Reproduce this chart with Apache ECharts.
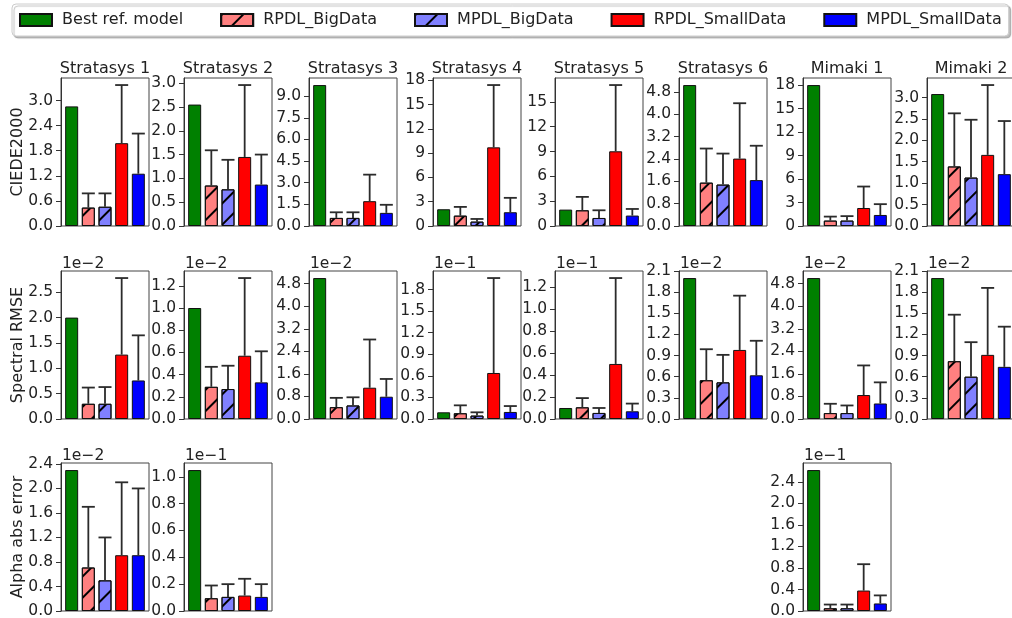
<!DOCTYPE html>
<html>
<head>
<meta charset="utf-8">
<script src="https://cdn.jsdelivr.net/npm/echarts@6/dist/echarts.min.js"></script>
<style>
  html, body { margin: 0; padding: 0; background: #fff; }
  #chart { width: 1012px; height: 618px; }
</style>
</head>
<body>
<div id="chart"></div>
<script>
var models = ['Best ref. model', 'RPDL_BigData', 'MPDL_BigData', 'RPDL_SmallData', 'MPDL_SmallData'];
var printers = ['Stratasys 1', 'Stratasys 2', 'Stratasys 3', 'Stratasys 4', 'Stratasys 5', 'Stratasys 6', 'Mimaki 1', 'Mimaki 2'];
var rowNames = ['CIEDE2000', 'Spectral RMSE', 'Alpha abs error'];

// CIEDE2000, one row per printer (model order as in models), std only shown upward
var ciedeMean = [
    [2.86, 0.44, 0.46, 1.98, 1.25],
    [2.55, 0.85, 0.77, 1.45, 0.87],
    [9.77, 0.56, 0.56, 1.72, 0.91],
    [2.07, 1.28, 0.54, 9.72, 1.70],
    [1.98, 1.90, 0.97, 9.03, 1.26],
    [5.04, 1.55, 1.48, 2.41, 1.64],
    [18.0, 0.69, 0.69, 2.30, 1.41],
    [3.08, 1.39, 1.13, 1.66, 1.21]
];
var ciedeErr = [
    [null, 0.34, 0.32, 1.39, 0.96],
    [null, 0.74, 0.62, 1.51, 0.63],
    [null, 0.39, 0.39, 1.84, 0.56],
    [null, 1.08, 0.33, 7.70, 1.78],
    [null, 1.62, 0.93, 8.01, 0.80],
    [null, 1.22, 1.11, 1.98, 1.23],
    [null, 0.51, 0.57, 2.74, 1.38],
    [null, 1.24, 1.35, 1.63, 1.24]
];
var ciedeTicks = [
    ['0.0', '0.6', '1.2', '1.8', '2.4', '3.0'],
    ['0.0', '0.5', '1.0', '1.5', '2.0', '2.5', '3.0'],
    ['0.0', '1.5', '3.0', '4.5', '6.0', '7.5', '9.0'],
    ['0', '3', '6', '9', '12', '15', '18'],
    ['0', '3', '6', '9', '12', '15'],
    ['0.0', '0.8', '1.6', '2.4', '3.2', '4.0', '4.8'],
    ['0', '3', '6', '9', '12', '15', '18'],
    ['0.0', '0.5', '1.0', '1.5', '2.0', '2.5', '3.0']
];

// Spectral RMSE, values in units of the offset shown above each panel
var rmseMean = [
    [2.0, 0.30, 0.30, 1.27, 0.76],
    [1.0, 0.29, 0.27, 0.57, 0.33],
    [5.0, 0.42, 0.48, 1.11, 0.79],
    [0.093, 0.08, 0.047, 0.64, 0.098],
    [0.10, 0.106, 0.055, 0.50, 0.07],
    [2.0, 0.55, 0.52, 0.98, 0.62],
    [5.0, 0.21, 0.21, 0.85, 0.55],
    [2.0, 0.82, 0.60, 0.91, 0.74]
];
var rmseErr = [
    [null, 0.32, 0.33, 1.51, 0.89],
    [null, 0.18, 0.21, 0.70, 0.28],
    [null, 0.33, 0.29, 1.71, 0.63],
    [null, 0.11, 0.046, 1.32, 0.082],
    [null, 0.084, 0.045, 0.78, 0.07],
    [null, 0.44, 0.39, 0.77, 0.49],
    [null, 0.33, 0.27, 1.05, 0.75],
    [null, 0.66, 0.49, 0.95, 0.57]
];
var rmseTicks = [
    ['0.0', '0.5', '1.0', '1.5', '2.0', '2.5'],
    ['0.0', '0.2', '0.4', '0.6', '0.8', '1.0', '1.2'],
    ['0.0', '0.8', '1.6', '2.4', '3.2', '4.0', '4.8'],
    ['0.0', '0.3', '0.6', '0.9', '1.2', '1.5', '1.8'],
    ['0.0', '0.2', '0.4', '0.6', '0.8', '1.0', '1.2'],
    ['0.0', '0.3', '0.6', '0.9', '1.2', '1.5', '1.8', '2.1'],
    ['0.0', '0.8', '1.6', '2.4', '3.2', '4.0', '4.8'],
    ['0.0', '0.3', '0.6', '0.9', '1.2', '1.5', '1.8', '2.1']
];
var rmseOffset = ['1e\u22122', '1e\u22122', '1e\u22122', '1e\u22121', '1e\u22121', '1e\u22122', '1e\u22122', '1e\u22122'];

// Alpha abs error, only three printers have it
var alphaCols = [0, 1, 6];
var alphaMean = [
    [2.30, 0.71, 0.50, 0.91, 0.91],
    [1.05, 0.095, 0.105, 0.115, 0.105],
    [2.62, 0.05, 0.05, 0.38, 0.14]
];
var alphaErr = [
    [null, 0.99, 0.70, 1.19, 1.09],
    [null, 0.095, 0.095, 0.125, 0.095],
    [null, 0.07, 0.07, 0.49, 0.15]
];
var alphaTicks = [
    ['0.0', '0.4', '0.8', '1.2', '1.6', '2.0', '2.4'],
    ['0.0', '0.2', '0.4', '0.6', '0.8', '1.0'],
    ['0.0', '0.4', '0.8', '1.2', '1.6', '2.0', '2.4']
];
var alphaOffset = ['1e\u22122', '1e\u22121', '1e\u22121'];

var colors = ['#008000', '#ff8080', '#8080ff', '#ff0000', '#0000ff'];
var hatched = [false, true, true, false, false];
var colLeft = [61, 184, 309, 433, 555, 679, 803, 927];
var rowTop = [78, 271, 463];
var panelW = 88, panelH = 148;
var FONT = '"DejaVu Sans", sans-serif';

var hatch = {
    symbol: 'rect',
    symbolSize: 1,
    color: '#000',
    dashArrayX: [1, 0],
    dashArrayY: [1.2, 13],
    rotation: -Math.PI / 4
};

// collect panels
var panels = [];
printers.forEach(function(name, c) {
    panels.push({ row: 0, col: c, title: name, mean: ciedeMean[c], err: ciedeErr[c], ticks: ciedeTicks[c] });
});
printers.forEach(function(name, c) {
    panels.push({ row: 1, col: c, offset: rmseOffset[c], mean: rmseMean[c], err: rmseErr[c], ticks: rmseTicks[c] });
});
alphaCols.forEach(function(c, i) {
    panels.push({ row: 2, col: c, offset: alphaOffset[i], mean: alphaMean[i], err: alphaErr[i], ticks: alphaTicks[i] });
});

var grids = [], xAxes = [], yAxes = [], series = [], graphics = [];

panels.forEach(function(p, k) {
    var top = rowTop[p.row];
    var left = colLeft[p.col];
    var topVal = 0;
    p.mean.forEach(function(v, m) {
        topVal = Math.max(topVal, v + (p.err[m] || 0));
    });
    var tickVals = p.ticks.map(Number);

    grids.push({
        left: left, top: top, width: panelW, height: panelH,
        show: true, borderColor: '#444', borderWidth: 1,
        outerBoundsMode: 'none', containLabel: false
    });
    xAxes.push({ gridIndex: k, type: 'value', min: -0.64, max: 4.64, show: false });
    yAxes.push({
        gridIndex: k, type: 'value', min: 0, max: topVal * 1.05,
        axisLine: { show: true, onZero: false, lineStyle: { color: '#333', width: 1 } },
        axisTick: { show: true, length: 5, customValues: tickVals, lineStyle: { color: '#333' } },
        axisLabel: {
            customValues: tickVals, margin: 8, fontSize: 15.5, color: '#222', fontFamily: FONT,
            formatter: function(v) {
                for (var i = 0; i < tickVals.length; i++) {
                    if (Math.abs(tickVals[i] - v) < 1e-9) return p.ticks[i];
                }
                return '';
            }
        },
        splitLine: { show: false }
    });

    models.forEach(function(name, m) {
        var style = { color: colors[m], borderColor: '#111', borderWidth: 1 };
        if (hatched[m]) style.decal = hatch;
        series.push({
            type: 'bar', name: name, xAxisIndex: k, yAxisIndex: k,
            data: [[m, p.mean[m]]], barWidth: 13, barGap: '-100%',
            itemStyle: style, emphasis: { disabled: true }
        });
    });

    var errData = [];
    p.mean.forEach(function(v, m) {
        if (p.err[m] != null) errData.push([m, v, p.err[m]]);
    });
    series.push({
        type: 'custom', name: 'err' + k, xAxisIndex: k, yAxisIndex: k, z: 5,
        data: errData,
        renderItem: function(params, api) {
            var x = api.value(0), v = api.value(1), e = api.value(2);
            var lo = api.coord([x, v]);
            var hi = api.coord([x, v + e]);
            var st = { stroke: '#2b2b2b', lineWidth: 1.8 };
            return {
                type: 'group',
                children: [
                    { type: 'line', shape: { x1: lo[0], y1: lo[1], x2: hi[0], y2: hi[1] }, style: st },
                    { type: 'line', shape: { x1: hi[0] - 6.5, y1: hi[1], x2: hi[0] + 6.5, y2: hi[1] }, style: st }
                ]
            };
        }
    });

    if (p.title) {
        graphics.push({
            type: 'text', x: left + panelW / 2, y: top - 9,
            style: { text: p.title, fill: '#222', font: '16px ' + FONT, textAlign: 'center', textVerticalAlign: 'middle' }
        });
    }
    if (p.offset) {
        graphics.push({
            type: 'text', x: left + 1, y: top - 7,
            style: { text: p.offset, fill: '#222', font: '15.5px ' + FONT, textAlign: 'left', textVerticalAlign: 'middle' }
        });
    }
});

rowNames.forEach(function(name, r) {
    graphics.push({
        type: 'text', x: 18, y: rowTop[r] + panelH / 2, rotation: Math.PI / 2,
        style: { text: name, fill: '#222', font: '16px ' + FONT, textAlign: 'center', textVerticalAlign: 'middle' }
    });
});

var chart = echarts.init(document.getElementById('chart'));
chart.setOption({
    animation: false,
    backgroundColor: '#fff',
    legend: {
        data: models, left: 12, top: 4, width: 1010,
        icon: 'rect', itemWidth: 32, itemHeight: 12, itemGap: 37,
        padding: [8, 7, 8, 7],
        backgroundColor: '#fff', borderColor: '#ccc', borderWidth: 1, borderRadius: 4,
        shadowColor: 'rgba(0,0,0,0.25)', shadowOffsetX: 2, shadowOffsetY: 2, shadowBlur: 1,
        textStyle: { fontSize: 16, fontFamily: FONT, color: '#222' },
        formatter: function(n) { return ' ' + n; }
    },
    grid: grids,
    xAxis: xAxes,
    yAxis: yAxes,
    series: series,
    graphic: graphics
});
</script>
</body>
</html>
